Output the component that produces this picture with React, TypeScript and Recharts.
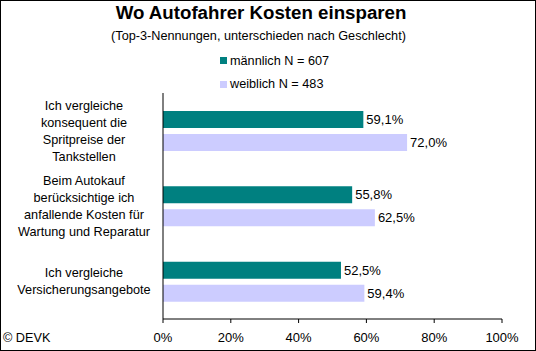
import React from "react";
import { BarChart, Bar, XAxis, YAxis, LabelList } from "recharts";

const categories = [
  "Ich vergleiche\nkonsequent die\nSpritpreise der\nTankstellen",
  "Beim Autokauf\nberücksichtige ich\nanfallende Kosten für\nWartung und Reparatur",
  "Ich vergleiche\nVersicherungsangebote",
];
const maleValues = [59.1, 55.8, 52.5];
const femaleValues = [72.0, 62.5, 59.4];
const xTicks = [0, 20, 40, 60, 80, 100];
const series = [
  { key: "male", name: "männlich N = 607", color: "#008080" },
  { key: "female", name: "weiblich N = 483", color: "#CCCCFF" },
];
const title = "Wo Autofahrer Kosten einsparen";
const subtitle = "(Top-3-Nennungen, unterschieden nach Geschlecht)";
const source = "© DEVK";

const data = categories.map((name, i) => ({
  name,
  male: maleValues[i],
  female: femaleValues[i],
}));

const FONT = '"Liberation Sans", Arial, sans-serif';
const TXT = 12.7;
const NUM = 13;

const fmt = (v: any) => Number(v).toFixed(1).replace(".", ",") + "%";

const CatTick = (props: any) => {
  const { x, y, payload } = props;
  const lines = String(payload.value).split("\n");
  const lh = 17;
  return (
    <g>
      {lines.map((l, i) => (
        <text
          key={i}
          x={x - 79}
          y={y + (i - (lines.length - 1) / 2) * lh}
          dy="0.35em"
          textAnchor="middle"
          fontSize={TXT}
          fill="#000"
          fontFamily={FONT}
        >
          {l}
        </text>
      ))}
    </g>
  );
};

export default function App() {
  return (
    <div
      style={{
        position: "fixed",
        left: 0,
        top: 0,
        width: 536,
        height: 351,
        background: "#fff",
        fontFamily: FONT,
        color: "#000",
      }}
    >
      <div
        style={{
          position: "absolute",
          left: 0,
          top: 2,
          width: 522,
          textAlign: "center",
          fontSize: 18.7,
          fontWeight: "bold",
          lineHeight: "normal",
          whiteSpace: "nowrap",
        }}
      >
        {title}
      </div>
      <div
        style={{
          position: "absolute",
          left: 0,
          top: 28.5,
          width: 517,
          textAlign: "center",
          fontSize: TXT,
          whiteSpace: "nowrap",
        }}
      >
        {subtitle}
      </div>
      {series.map((s, i) => (
        <div
          key={s.key}
          style={{
            position: "absolute",
            left: 220,
            top: 53.5 + i * 23.5,
            fontSize: TXT,
            whiteSpace: "nowrap",
            display: "flex",
            alignItems: "center",
          }}
        >
          <span
            style={{
              display: "inline-block",
              width: 7,
              height: 7,
              background: s.color,
              marginRight: 3,
            }}
          />
          <span>{s.name}</span>
        </div>
      ))}
      <div
        style={{
          position: "absolute",
          left: 3,
          top: 330.5,
          fontSize: TXT,
          whiteSpace: "nowrap",
        }}
      >
        {source}
      </div>
      <div style={{ position: "absolute", left: 0, top: 0 }}>
        <BarChart
          width={536}
          height={351}
          data={data}
          layout="vertical"
          margin={{ top: 93, right: 34, bottom: 2, left: 0 }}
          barSize={17}
          barGap={6}
        >
          <XAxis
            type="number"
            domain={[0, 100]}
            ticks={xTicks}
            interval={0}
            tickFormatter={(v: number) => v + "%"}
            height={30}
            tickSize={4}
            tickMargin={10}
            stroke="#000"
            tick={{ fill: "#000", fontSize: NUM, fontFamily: FONT }}
          />
          <YAxis
            yAxisId="axis"
            type="number"
            domain={[0, 3]}
            ticks={[0, 1, 2, 3]}
            allowDataOverflow
            width={0.01}
            tickSize={4}
            tick={false}
            stroke="#000"
          />
          <YAxis
            yAxisId="cat"
            type="category"
            dataKey="name"
            width={162.99}
            axisLine={false}
            tickLine={false}
            tickSize={0}
            tickMargin={0}
            interval={0}
            tick={<CatTick />}
          />
          {series.map((s) => (
            <Bar
              key={s.key}
              yAxisId="cat"
              dataKey={s.key}
              name={s.name}
              fill={s.color}
              isAnimationActive={false}
            >
              <LabelList
                dataKey={s.key}
                position="right"
                offset={3}
                formatter={fmt}
                fill="#000"
                fontSize={NUM}
                fontFamily={FONT}
              />
            </Bar>
          ))}
        </BarChart>
      </div>
      <div
        style={{
          position: "absolute",
          left: 0,
          top: 0,
          width: 536,
          height: 351,
          boxSizing: "border-box",
          border: "1px solid #000",
          pointerEvents: "none",
        }}
      />
    </div>
  );
}
